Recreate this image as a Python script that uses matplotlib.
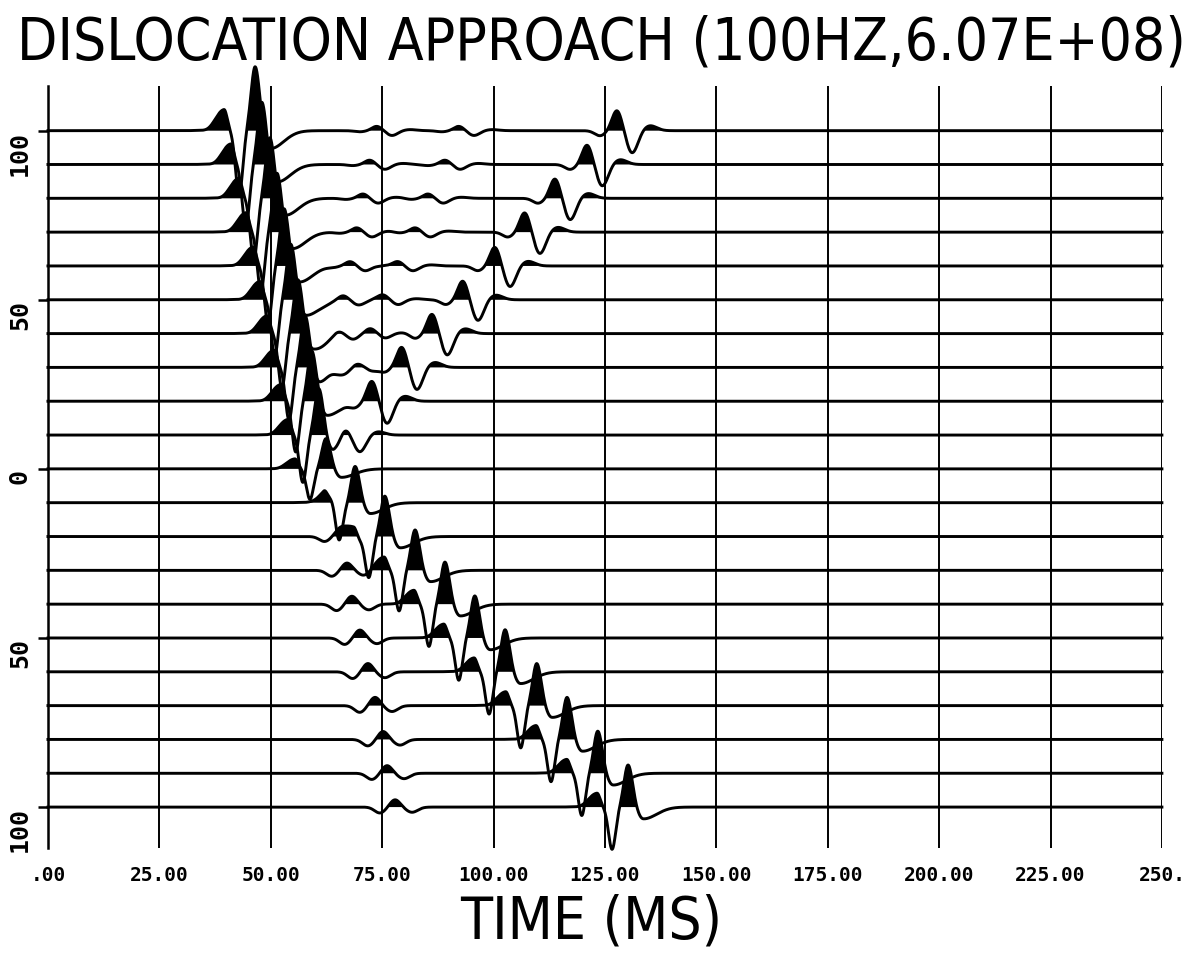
import numpy as np
import matplotlib.pyplot as plt

# trace offsets, top to bottom
offsets = [100, 90, 80, 70, 60, 50, 40, 30, 20, 10, 0,
           -10, -20, -30, -40, -50, -60, -70, -80, -90, -100]

# direct arrival: peak time (ms) and amplitude (trace units) per trace
direct_t = [46.5, 48.0, 49.8, 51.4, 53.0, 54.5, 56.1, 57.7, 59.2, 60.8, 62.4,
            63.9, 65.5, 67.1, 68.2, 70.0, 71.8, 73.4, 75.2, 76.1, 77.9]
direct_strong = [19.0, 18.5, 18.0, 17.5, 17.0, 16.5, 16.0, 15.5, 15.0, 14.0, 9.0,
                 0, 0, 0, 0, 0, 0, 0, 0, 0, 0]
direct_weak = [0, 0, 0, 0, 0, 0, 0, 0, 0, 0, 0,
               1.6, 1.9, 2.2, 2.4, 2.4, 2.5, 2.5, 2.4, 2.3, 2.2]

# scattered arrival (V shaped moveout)
scatter_t = [127.7, 121.0, 113.8, 107.0, 100.3, 93.1, 86.2, 79.4, 72.7, 66.7, 61.0,
             68.9, 75.6, 82.4, 89.1, 95.8, 102.6, 109.7, 116.5, 123.4, 130.2]
scatter_weak = [6.0, 5.8, 5.8, 5.8, 5.6, 5.6, 5.8, 6.0, 6.0, 4.0, 0,
                0, 0, 0, 0, 0, 0, 0, 0, 0, 0]
scatter_strong = [0, 0, 0, 0, 0, 0, 0, 0, 0, 0, 0,
                  11.5, 12.0, 12.0, 12.5, 12.5, 12.5, 12.5, 12.5, 12.5, 12.5]

# small ripples on the upper traces (traces 0..7)
ripple1_t = [73.8, 72.2, 70.7, 69.3, 67.8, 66.2, 65.1, 63.3]
ripple2_t = [92.2, 89.1, 85.3, 82.4, 78.5, 75.2, 72.3, 69.3]
ripple_amp = [1.3, 1.3, 1.3, 1.3, 1.3, 1.3, 1.2, 1.0]

# wavelet lobes: (time shift ms, relative amplitude, left width, right width)
STRONG = [(-10.0, -0.08, 1.5, 1.5), (-7.0, 0.34, 2.4, 0.7), (-3.6, -1.0, 0.8, 0.8),
          (0.0, 1.0, 0.9, 1.0), (3.4, -0.28, 1.2, 3.0)]
WEAK_PT = [(-3.8, -0.25, 1.2, 1.2), (0.0, 1.0, 1.1, 1.1), (3.4, -1.1, 1.2, 1.3),
           (7.4, 0.25, 1.5, 1.5)]
WEAK_TPT = [(-3.4, -0.8, 1.2, 1.2), (0.0, 1.0, 1.1, 1.1), (3.8, -0.7, 1.3, 1.3)]

xticks = [0, 25, 50, 75, 100, 125, 150, 175, 200, 225, 250]
xticklabels = ['.00', '25.00', '50.00', '75.00', '100.00', '125.00',
               '150.00', '175.00', '200.00', '225.00', '250.']
yticks = [100, 50, 0, -50, -100]
yticklabels = ['100', '50', '0', '50', '100']


def wavelet(t, t0, scale, lobes):
    out = np.zeros_like(t)
    if scale == 0:
        return out
    for dt, a, sl, sr in lobes:
        c = t0 + dt
        s = np.where(t < c, sl, sr)
        out += scale * a * np.exp(-0.5 * ((t - c) / s) ** 2)
    return out


t = np.linspace(0, 250, 5001)

fig = plt.figure(figsize=(11.96, 9.57), dpi=100)
ax = fig.add_axes([0.0401, 0.1139, 0.9314, 0.7962])

for i, off in enumerate(offsets):
    y = wavelet(t, direct_t[i], direct_strong[i], STRONG)
    y += wavelet(t, direct_t[i], direct_weak[i], WEAK_TPT)
    y += wavelet(t, scatter_t[i], scatter_strong[i], STRONG)
    y += wavelet(t, scatter_t[i], scatter_weak[i], WEAK_PT)
    if i < len(ripple_amp):
        y += wavelet(t, ripple1_t[i], ripple_amp[i], WEAK_PT)
        y += wavelet(t, ripple2_t[i], ripple_amp[i], WEAK_PT)
    y = off + y
    ax.fill_between(t, off, y, where=y > off, interpolate=True,
                    color='black', lw=0, clip_on=False)
    ax.plot(t, y, color='black', lw=2.1, clip_on=False, solid_joinstyle='round')

ax.set_xlim(0, 250)
ax.set_ylim(-112.1, 113.2)

for s in ['top', 'right', 'bottom']:
    ax.spines[s].set_visible(False)
ax.spines['left'].set_linewidth(1.8)

ax.set_xticks(xticks, xticklabels, fontsize=14, fontweight='bold',
              family='DejaVu Sans Mono')
ax.tick_params(axis='x', length=0, pad=13)
ax.grid(axis='x', color='black', lw=1.4)
ax.set_axisbelow(True)

ax.set_yticks(yticks, yticklabels, fontsize=18, fontweight='bold',
              family='DejaVu Sans Mono')
ax.tick_params(axis='y', length=7.5, width=1.8, pad=4, direction='out')
for lab in ax.get_yticklabels():
    lab.set_rotation(90)
    lab.set_va('top')

fig.text(0.5025, 0.955, 'DISLOCATION APPROACH (100HZ,6.07E+08)',
         ha='center', va='center', fontsize=42, family='DejaVu Sans',
         fontstretch='condensed')
ax.set_xlabel('TIME (MS)', fontsize=42, family='DejaVu Sans',
              fontstretch='condensed')
ax.xaxis.set_label_coords(0.488, -0.097)
ax.xaxis.label.set_va('center')

fig.savefig('out.png', dpi=100)
